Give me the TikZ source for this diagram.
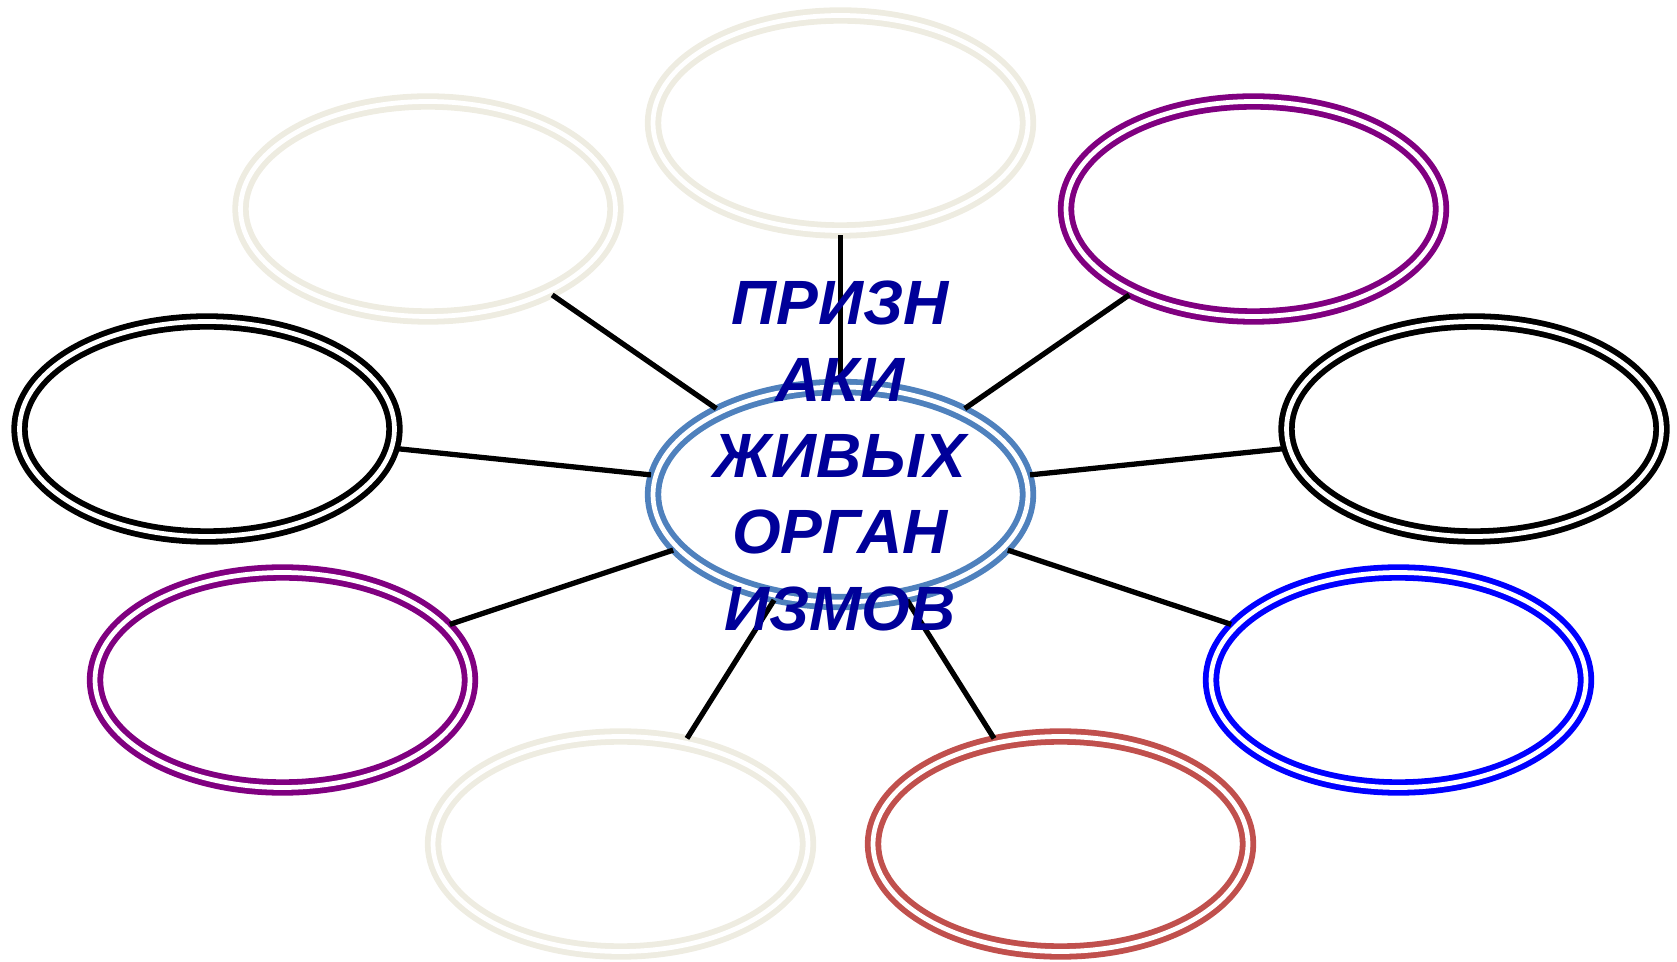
\documentclass[tikz,border=0pt]{standalone}
\usepackage{fontspec}
\setmainfont{Liberation Sans}
\usepackage{tikz}
\usetikzlibrary{shapes.geometric}
\definecolor{beige}{HTML}{EEECE1}
\definecolor{plum}{HTML}{800080}
\definecolor{steel}{HTML}{4F81BD}
\definecolor{brick}{HTML}{C0504D}
\definecolor{ink}{HTML}{000099}

\begin{document}
\begin{tikzpicture}[
  oval/.style={ellipse, draw=#1, line width=1.65pt, double=white, double distance=1.35pt,
    minimum width=3.75cm, minimum height=2.15cm, inner sep=0pt, outer sep=0.05cm},
  link/.style={line width=1.5pt, black},
  title/.style={ink, font=\fontsize{17.8pt}{21.75pt}\selectfont\bfseries\itshape,
    align=center, inner sep=0pt}
]
\useasboundingbox (0,0) rectangle (16.77,9.61);

\node[oval=beige] (top) at (8.405,8.38) {};
\node[oval=beige] (topleft) at (4.28,7.52) {};
\node[oval=plum] (topright) at (12.535,7.52) {};
\node[oval=black] (left) at (2.07,5.32) {};
\node[oval=black] (right) at (14.74,5.32) {};
\node[oval=steel] (hub) at (8.405,4.665) {};
\node[oval=plum] (botleft) at (2.825,2.81) {};
\node[oval=blue] (botright) at (13.985,2.81) {};
\node[oval=beige] (botmidl) at (6.205,1.17) {};
\node[oval=brick] (botmidr) at (10.605,1.17) {};

\draw[link] (hub) -- (top);
\draw[link] (hub) -- (topleft);
\draw[link] (hub) -- (topright);
\draw[link] (hub) -- (left);
\draw[link] (hub) -- (right);
\draw[link] (hub) -- (botleft);
\draw[link] (hub) -- (botright);
\draw[link] (hub) -- (botmidl);
\draw[link] (hub) -- (botmidr);

\node[title] (label) at (8.40,5.05) {ПРИЗН\\АКИ\\ЖИВЫХ\\ОРГАН\\ИЗМОВ};

\end{tikzpicture}
\end{document}
